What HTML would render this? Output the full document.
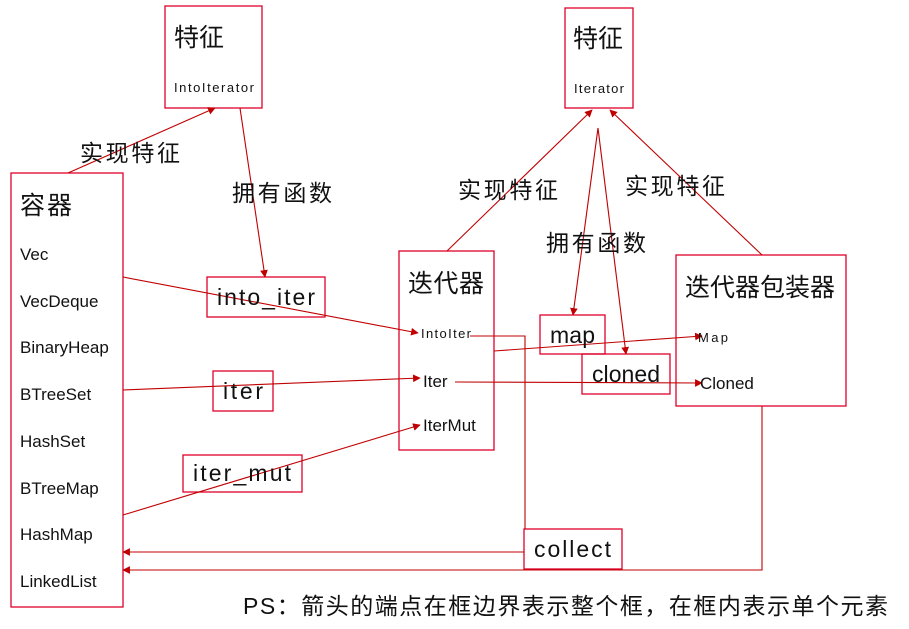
<!DOCTYPE html>
<html><head><meta charset="utf-8"><style>
body{margin:0;background:#fff}
svg text{font-family:"Liberation Sans","Noto Sans CJK SC",sans-serif;fill:#111}
</style></head><body>
<svg width="909" height="624" xmlns="http://www.w3.org/2000/svg">
<defs><marker id="a" viewBox="0 0 10 10" refX="9" refY="5" markerWidth="7" markerHeight="7" orient="auto"><path d="M0,0L10,5L0,10z" fill="#c00000"/></marker></defs>
<g fill="none" stroke="#e0002a" stroke-width="1.3">
<rect x="165" y="6" width="97" height="102"/>
<rect x="565" y="8" width="68" height="100"/>
<rect x="11" y="173" width="112" height="434"/>
<rect x="207" y="277" width="118" height="40"/>
<rect x="213" y="371" width="60" height="40"/>
<rect x="183" y="455" width="119" height="37"/>
<rect x="399" y="251" width="95" height="199"/>
<rect x="540" y="315" width="65" height="39"/>
<rect x="582" y="354" width="88" height="40"/>
<rect x="676" y="255" width="170" height="151"/>
<rect x="524" y="529" width="98" height="40"/>
</g>
<g fill="none" stroke="#c00000" stroke-width="1.1" marker-end="url(#a)">
<line x1="68" y1="173" x2="215" y2="108"/>
<line x1="240" y1="108" x2="265" y2="277"/>
<line x1="123" y1="277" x2="418" y2="333"/>
<line x1="123" y1="390" x2="420" y2="378"/>
<line x1="123" y1="515" x2="420" y2="425"/>
<line x1="524" y1="552" x2="123" y2="552"/>
<line x1="494" y1="351" x2="702" y2="336"/>
<line x1="455" y1="382" x2="702" y2="383"/>
<line x1="447" y1="251" x2="592" y2="110"/>
<line x1="762" y1="255" x2="610" y2="110"/>
<line x1="598" y1="128" x2="573" y2="315"/>
<line x1="598" y1="128" x2="626" y2="354"/>
<polyline points="762,406 762,570 123,570"/>
</g>
<polyline points="470,336 525,336 525,529" fill="none" stroke="#c00000" stroke-width="1.1"/>
<g font-size="25">
<text x="174" y="46" textLength="50">特征</text>
<text x="573" y="47" textLength="50">特征</text>
<text x="20" y="214" textLength="52">容器</text>
<text x="408" y="292" textLength="76">迭代器</text>
<text x="685" y="296" textLength="150">迭代器包装器</text>
</g>
<g font-size="23">
<text x="80" y="161" textLength="100">实现特征</text>
<text x="232" y="201" textLength="100">拥有函数</text>
<text x="458" y="198" textLength="100">实现特征</text>
<text x="625" y="194" textLength="100">实现特征</text>
<text x="546" y="251" textLength="100">拥有函数</text>
<text x="217" y="305" textLength="98">into_iter</text>
<text x="223" y="399" textLength="40">iter</text>
<text x="193" y="481" textLength="98">iter_mut</text>
<text x="550" y="343" textLength="45">map</text>
<text x="592" y="382" textLength="68">cloned</text>
<text x="534" y="557" textLength="77">collect</text>
<text x="243" y="614" textLength="645">PS：箭头的端点在框边界表示整个框，在框内表示单个元素</text>
</g>
<g font-size="17">
<text x="20" y="260">Vec</text>
<text x="20" y="307">VecDeque</text>
<text x="20" y="353">BinaryHeap</text>
<text x="20" y="400">BTreeSet</text>
<text x="20" y="447">HashSet</text>
<text x="20" y="494">BTreeMap</text>
<text x="20" y="540">HashMap</text>
<text x="20" y="587">LinkedList</text>
<text x="423" y="387">Iter</text>
<text x="423" y="431">IterMut</text>
<text x="700" y="389">Cloned</text>
</g>
<g font-size="13">
<text x="174" y="92" textLength="80">IntoIterator</text>
<text x="574" y="93" textLength="50">Iterator</text>
<text x="421" y="338" textLength="50">IntoIter</text>
<text x="698" y="342" textLength="30">Map</text>
</g>
</svg>
</body></html>
